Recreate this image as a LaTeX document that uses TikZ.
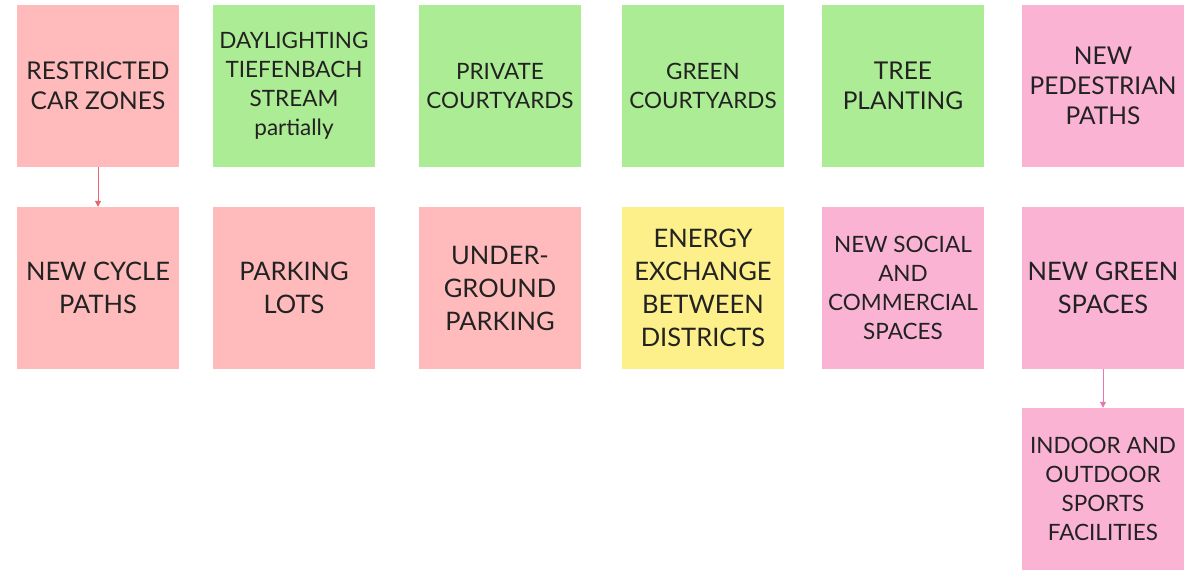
\documentclass[tikz,border=0pt]{standalone}
\usepackage{fontspec}
\setmainfont{Lato}
\usetikzlibrary{positioning,arrows.meta}
\definecolor{notered}{HTML}{FFBBBB}
\definecolor{notegreen}{HTML}{ACEC94}
\definecolor{noteyellow}{HTML}{FDF08A}
\definecolor{notepink}{HTML}{FBB3D4}
\definecolor{linkred}{HTML}{E8656D}
\definecolor{linkpink}{HTML}{E877B0}
\definecolor{notetext}{HTML}{222222}

\begin{document}
\begin{tikzpicture}[x=1pt,y=-1pt]
	\tikzset{note/.style={minimum width=162pt,minimum height=162pt,inner sep=2pt,align=center,text=notetext,font=\fontsize{24.5}{30}\selectfont}}
	\tikzset{small/.style={font=\fontsize{22.5}{29}\selectfont}}
	\tikzset{big/.style={font=\fontsize{25.5}{33}\selectfont}}
	\useasboundingbox[fill=white] (0,0) rectangle (1191,573);
	% top row
	\node[note,fill=notered] (rcz) at (98,86) {RESTRICTED\\CAR ZONES};
	\node[note,small,fill=notegreen] (dts) at (294,86) {DAYLIGHTING\\TIEFENBACH\\STREAM\\partially};
	\node[note,small,fill=notegreen] (pc) at (500,86) {PRIVATE\\COURTYARDS};
	\node[note,small,fill=notegreen] (gc) at (703,86) {GREEN\\COURTYARDS};
	\node[note,fill=notegreen] (tp) at (903,86) {TREE\\PLANTING};
	\node[note,fill=notepink] (npp) at (1103,86) {NEW\\PEDESTRIAN\\PATHS};
	% second row
	\node[note,big,fill=notered] (ncp) at (98,288) {NEW CYCLE\\PATHS};
	\node[note,big,fill=notered] (pl) at (294,288) {PARKING\\LOTS};
	\node[note,big,fill=notered] (ugp) at (500,288) {UNDER-\\GROUND\\PARKING};
	\node[note,big,fill=noteyellow] (eeb) at (703,288) {ENERGY\\EXCHANGE\\BETWEEN\\DISTRICTS};
	\node[note,small,fill=notepink] (nsc) at (903,288) {NEW SOCIAL\\AND\\COMMERCIAL\\SPACES};
	\node[note,big,fill=notepink] (ngs) at (1103,288) {NEW GREEN\\SPACES};
	% third row
	\node[note,small,fill=notepink] (ios) at (1103,489) {INDOOR AND\\OUTDOOR\\SPORTS\\FACILITIES};
	\path[-{Triangle[width=6pt,length=6pt]},line width=1pt]
		(rcz) edge[linkred] (ncp)
		(ngs) edge[linkpink] (ios);
\end{tikzpicture}
\end{document}
